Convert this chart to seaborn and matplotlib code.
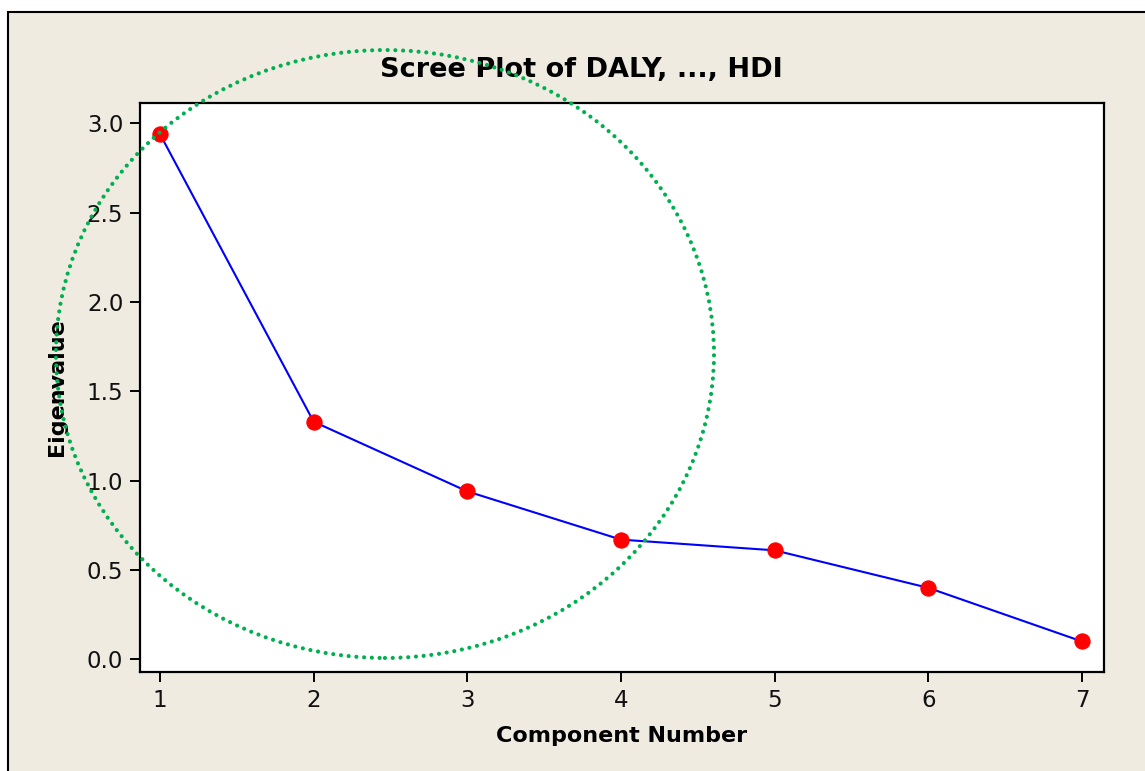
import matplotlib
matplotlib.use("Agg")
import matplotlib.pyplot as plt
import seaborn as sns
import pandas as pd
from matplotlib.patches import Ellipse, Rectangle

# Eigenvalues of the principal components
components = [1, 2, 3, 4, 5, 6, 7]
eigenvalues = [2.94, 1.33, 0.94, 0.67, 0.61, 0.40, 0.10]
yticks = [0.0, 0.5, 1.0, 1.5, 2.0, 2.5, 3.0]

df = pd.DataFrame({"Component Number": components, "Eigenvalue": eigenvalues})

sns.set_style("ticks")
plt.rcParams["font.family"] = ["DejaVu Sans"]
plt.rcParams["text.color"] = "black"
plt.rcParams["axes.labelcolor"] = "black"

W, H, DPI = 1145, 771, 100
fig = plt.figure(figsize=(W / DPI, H / DPI), dpi=DPI, facecolor="white")
ax = fig.add_axes([140 / W, 1 - 672 / H, (1104 - 140) / W, (672 - 103) / H])

# beige panel with a black frame behind the plot area
fig.patches.append(Rectangle((8 / W, -0.2), 1.5, 1.2 - 12 / H,
                             transform=fig.transFigure, facecolor="#EFEBE1",
                             edgecolor="black", linewidth=1.5, zorder=-5))

sns.lineplot(data=df, x="Component Number", y="Eigenvalue", ax=ax,
             color="#0000FF", linewidth=1.5, marker="o", markersize=11,
             markerfacecolor="#FF0000", markeredgecolor="#FF0000", zorder=3)

ax.set_facecolor("white")
ax.set_xlim(0.87, 7.143)
ax.set_ylim(-0.071, 3.114)
ax.set_xticks(components)
ax.set_yticks(yticks)
ax.set_yticklabels([f"{v:.1f}" for v in yticks])

for s in ax.spines.values():
    s.set_visible(True)
    s.set_color("black")
    s.set_linewidth(1.6)

ax.tick_params(axis="both", direction="out", length=7, width=1.4,
               color="black", labelsize=16.5, labelcolor="#111111", pad=5)

ax.set_xlabel("Component Number", fontsize=16, fontweight="bold",
              color="black", labelpad=10)
ax.set_ylabel("Eigenvalue", fontsize=16, fontweight="bold",
              color="black", labelpad=14)
ax.set_title("Scree Plot of DALY, ..., HDI", fontsize=19.5, fontweight="bold",
             color="black", x=0.4575, pad=19)

# dotted green ring highlighting the first components
ring = Ellipse((2.464, 1.709), width=4.282, height=3.403, fill=False,
               edgecolor="#00B050", linewidth=3.0,
               linestyle=(0, (0.01, 1.85)), capstyle="round",
               clip_on=False, zorder=10)
ax.add_patch(ring)

fig.savefig("out.png", dpi=DPI, facecolor=fig.get_facecolor())
